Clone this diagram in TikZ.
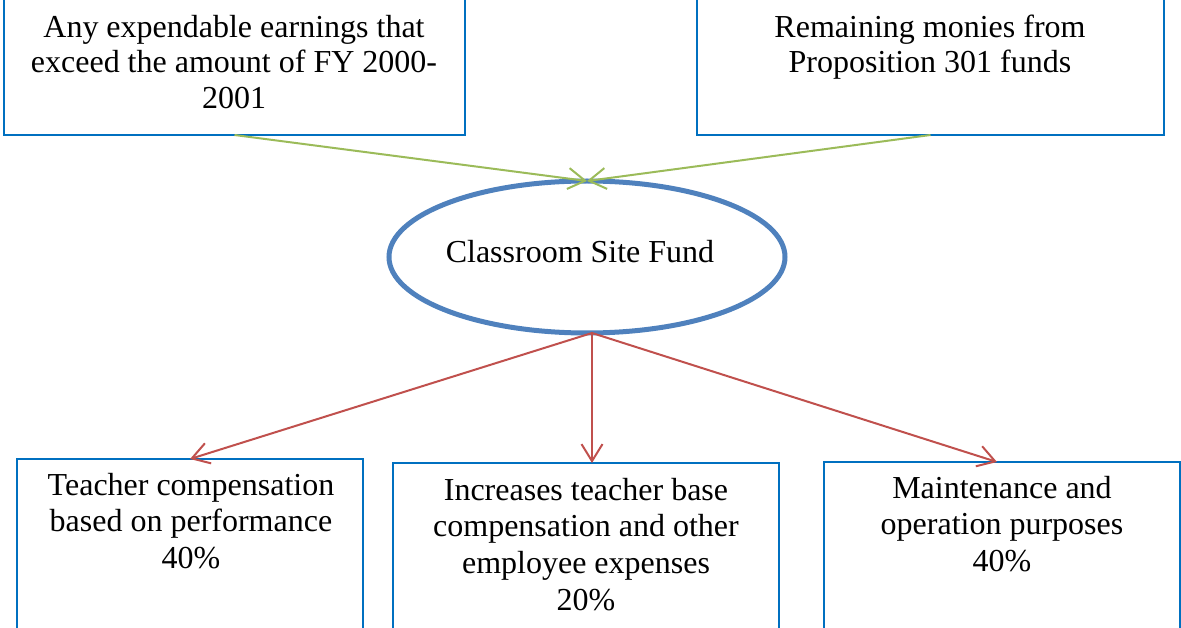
\documentclass[tikz,border=0pt]{standalone}
\usepackage{fontspec}
\setmainfont{Liberation Serif}
\usetikzlibrary{shapes.geometric,arrows.meta,calc}
\definecolor{boxblue}{RGB}{0,112,192}
\definecolor{ellblue}{RGB}{79,129,189}
\definecolor{lgreen}{RGB}{155,187,89}
\definecolor{lred}{RGB}{192,80,77}
\begin{document}
\begin{tikzpicture}[x=1pt,y=-1pt,
  box/.style={draw=boxblue,line width=2.2pt,rectangle,inner sep=0pt,outer sep=0pt,anchor=north west},
  txt/.style={align=center,inner sep=0pt,anchor=north,font=\fontsize{32}{36.7}\selectfont},
  txttop/.style={txt,font=\fontsize{32}{35.5}\selectfont},
  inarrow/.style={draw=lgreen,line width=2pt,-{Straight Barb[length=17pt,width=21pt]}},
  outarrow/.style={draw=lred,line width=2pt,-{Straight Barb[length=17pt,width=21pt]}}]
\useasboundingbox (0,0) rectangle (1181,628);
% boxes
\node[box,minimum width=461pt,minimum height=140pt] (b1) at (4,-5) {};
\node[box,minimum width=467pt,minimum height=140pt] (b2) at (697,-5) {};
\node[box,minimum width=346pt,minimum height=200pt] (b3) at (17,459) {};
\node[box,minimum width=386pt,minimum height=200pt] (b4) at (393,463) {};
\node[box,minimum width=356pt,minimum height=200pt] (b5) at (824,462) {};
% ellipse
\node[ellipse,draw=ellblue,line width=5pt,minimum width=396pt,minimum height=152pt,inner sep=0pt,outer sep=0pt] (fund) at (587,257) {};
% texts
\node[txt] (t0) at (580,237) {\rule{0pt}{25pt}Classroom Site Fund};
\node[txttop] (t1) at (234,12) {\rule{0pt}{25pt}Any expendable earnings that\\exceed the amount of FY 2000-\\2001};
\node[txttop] (t2) at (930,12) {\rule{0pt}{25pt}Remaining monies from\\Proposition 301 funds};
\node[txt] (t3) at (191,470) {\rule{0pt}{25pt}Teacher compensation\\based on performance\\40\%};
\node[txt] (t4) at (586,475) {\rule{0pt}{25pt}Increases teacher base\\compensation and other\\employee expenses\\20\%};
\node[txt] (t5) at (1002,473) {\rule{0pt}{25pt}Maintenance and\\operation purposes\\40\%};
% connectors
\draw[inarrow] (b1.south) -- (fund.north);
\draw[inarrow] (b2.south) -- (fund.north);
\coordinate (s) at ([xshift=5pt]fund.south);
\draw[outarrow] (s) -- (b3.north);
\draw[outarrow] (s) -- (s |- b4.north);
\draw[outarrow] (s) -- ([xshift=173pt]b5.north west);
\end{tikzpicture}
\end{document}
